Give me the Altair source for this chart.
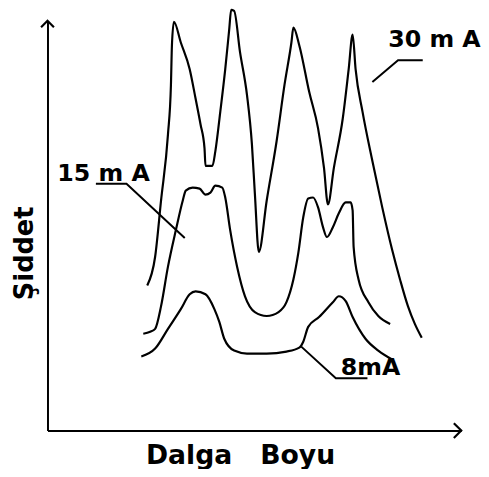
import altair as alt
import pandas as pd

# Curve traces (wavelength units, intensity units)
x_30 = [101, 109, 115, 122, 125, 126, 128, 135, 144, 150, 155, 159, 160, 167, 170, 175, 180, 184, 186, 189,
        195, 202, 207, 210, 214, 222, 232, 240, 247, 249, 255, 265, 274, 280, 284, 290, 299, 305, 309,
        312, 319, 329, 339, 349, 357, 365, 372, 379]
y_30 = [147, 176, 233, 300, 350, 390, 414, 393, 366, 336, 310, 286, 268, 268, 283, 323, 366, 406, 426, 425,
        383, 340, 290, 240, 181, 233, 293, 350, 393, 408, 390, 343, 306, 266, 229, 266, 316, 366, 401,
        366, 323, 273, 226, 183, 153, 126, 108, 94]

x_15 = [97, 104, 109, 115, 122, 130, 137, 140, 147, 154, 160, 165, 170, 177, 180, 185, 192, 200, 210, 222,
        234, 242, 249, 254, 259, 264, 269, 274, 279, 283, 289, 295, 302, 307, 309, 310, 315, 325, 335, 347]
y_15 = [98, 100, 103, 126, 166, 203, 233, 243, 246, 245, 239, 241, 248, 246, 236, 203, 166, 136, 120, 116,
        120, 130, 153, 180, 216, 235, 236, 226, 206, 196, 206, 220, 231, 231, 223, 186, 153, 130, 116, 108]

x_8 = [95, 109, 122, 135, 144, 150, 160, 169, 174, 179, 189, 202, 222, 242, 255, 259, 264, 275, 289, 295,
       302, 309, 322, 335, 349]
y_8 = [75, 83, 103, 123, 138, 141, 138, 123, 110, 93, 81, 78, 78, 80, 84, 90, 105, 115, 130, 136,
       131, 115, 93, 81, 72]

series_names = ["30 mA", "15 mA", "8 mA"]

# Label annotations
label_texts = ["30 m A", "15 m A", "8mA"]
label_x = [345, 10, 297]
label_y = [388, 253, 56]

# Leader lines for the labels
leader_x = [[329, 355, 380], [49, 80, 139], [257, 292, 324]]
leader_y = [[353, 375, 375], [250, 250, 195], [85, 53, 53]]

X_MAX = 419
Y_MAX = 415

rows = []
for name, xs, ys in zip(series_names, [x_30, x_15, x_8], [y_30, y_15, y_8]):
    for i, (a, b) in enumerate(zip(xs, ys)):
        rows.append({"series": name, "x": a, "y": b, "o": i})
curves = pd.DataFrame(rows)

lrows = []
for name, xs, ys in zip(series_names, leader_x, leader_y):
    for i, (a, b) in enumerate(zip(xs, ys)):
        lrows.append({"series": name, "x": a, "y": b, "o": i})
leaders = pd.DataFrame(lrows)

labels = pd.DataFrame({"text": label_texts, "x": label_x, "y": label_y})

FONT = "DejaVu Sans"

xscale = alt.Scale(domain=[0, X_MAX], nice=False, zero=False)
yscale = alt.Scale(domain=[0, Y_MAX], nice=False, zero=False)

xaxis = alt.Axis(title="Dalga\u00a0\u00a0\u00a0Boyu", ticks=False, labels=False, grid=False,
                 domainColor="black", domainWidth=2,
                 titleFont=FONT, titleFontSize=27, titleFontWeight="bold", titleColor="black",
                 titleX=195, titleY=33, titleAlign="center", titleBaseline="alphabetic")
yaxis = alt.Axis(title="Şiddet", ticks=False, labels=False, grid=False,
                 domainColor="black", domainWidth=2,
                 titleFont=FONT, titleFontSize=26, titleFontWeight="bold", titleColor="black",
                 titleX=-23, titleY=235, titleAngle=270, titleAlign="center", titleBaseline="middle")

curve_layer = alt.Chart(curves).mark_line(
    color="black", strokeWidth=2.2, strokeJoin="round", interpolate="monotone"
).encode(
    x=alt.X("x:Q", scale=xscale, axis=xaxis),
    y=alt.Y("y:Q", scale=yscale, axis=yaxis),
    detail="series:N",
    order="o:Q",
)

leader_layer = alt.Chart(leaders).mark_line(color="black", strokeWidth=2).encode(
    x=alt.X("x:Q", scale=xscale),
    y=alt.Y("y:Q", scale=yscale),
    detail="series:N",
    order="o:Q",
)

label_layer = alt.Chart(labels).mark_text(
    font=FONT, fontSize=24, fontWeight="bold", color="black", align="left", baseline="alphabetic"
).encode(
    x=alt.X("x:Q", scale=xscale),
    y=alt.Y("y:Q", scale=yscale),
    text="text:N",
)

arrow_y = alt.Chart(pd.DataFrame({"x": [0], "y": [Y_MAX]})).mark_point(
    shape="M-1,1L0,0L1,1", size=169, filled=False, stroke="black", strokeWidth=2.2, opacity=1
).encode(x=alt.X("x:Q", scale=xscale), y=alt.Y("y:Q", scale=yscale))

arrow_x = alt.Chart(pd.DataFrame({"x": [X_MAX], "y": [0]})).mark_point(
    shape="M-1,-1L0,0L-1,1", size=225, filled=False, stroke="black", strokeWidth=2.2, opacity=1
).encode(x=alt.X("x:Q", scale=xscale), y=alt.Y("y:Q", scale=yscale))

chart = alt.layer(curve_layer, leader_layer, label_layer, arrow_y, arrow_x).properties(
    width=X_MAX, height=Y_MAX,
    autosize=alt.AutoSizeParams(type="none"),
    padding={"left": 40, "top": 10, "right": 20, "bottom": 36},
    background="white",
).configure_view(stroke=None)

chart.save("out.html", embed_options={"renderer": "svg", "actions": False})
